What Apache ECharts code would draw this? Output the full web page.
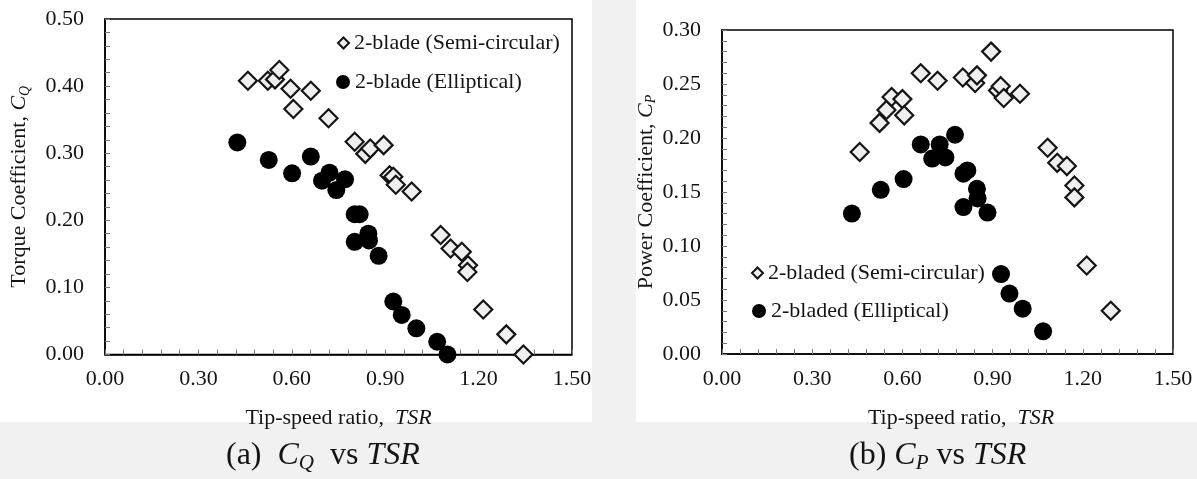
<!DOCTYPE html>
<html>
<head>
<meta charset="utf-8">
<script src="https://cdn.jsdelivr.net/npm/echarts@6/dist/echarts.min.js"></script>
<style>
html,body{margin:0;padding:0;background:#fff;}
#chart{width:1197px;height:479px;}
</style>
</head>
<body>
<div id="chart"></div>
<script>
// ---- data ----
const seriesNamesQ = ['2-blade (Semi-circular)', '2-blade (Elliptical)'];
const seriesNamesP = ['2-bladed (Semi-circular)', '2-bladed (Elliptical)'];

const semiTSR_Q = [0.459,0.523,0.546,0.560,0.596,0.605,0.661,0.718,0.802,0.836,0.852,0.895,0.914,0.926,0.934,0.985,1.078,1.110,1.146,1.166,1.164,1.215,1.289,1.344];
const semiCQ    = [0.408,0.408,0.410,0.424,0.396,0.366,0.393,0.352,0.317,0.299,0.307,0.312,0.267,0.265,0.253,0.243,0.178,0.158,0.153,0.133,0.123,0.067,0.030,0.000];

const ellTSR_Q = [0.425,0.526,0.601,0.661,0.697,0.721,0.743,0.771,0.802,0.818,0.802,0.846,0.848,0.879,0.926,0.953,1.000,1.067,1.100];
const ellCQ    = [0.316,0.290,0.270,0.295,0.259,0.271,0.245,0.261,0.209,0.209,0.168,0.180,0.170,0.147,0.079,0.059,0.039,0.019,0.000];

const semiTSR_P = [0.458,0.524,0.547,0.564,0.600,0.606,0.661,0.717,0.801,0.842,0.848,0.895,0.918,0.927,0.937,0.991,1.083,1.115,1.147,1.172,1.172,1.213,1.293];
const semiCP    = [0.187,0.214,0.226,0.238,0.236,0.221,0.260,0.253,0.256,0.251,0.258,0.280,0.244,0.248,0.237,0.241,0.191,0.177,0.174,0.156,0.145,0.082,0.040];

const ellTSR_P = [0.432,0.528,0.604,0.661,0.699,0.724,0.743,0.775,0.803,0.816,0.803,0.848,0.850,0.883,0.928,0.956,1.000,1.068];
const ellCP    = [0.130,0.152,0.162,0.194,0.181,0.194,0.182,0.203,0.167,0.170,0.136,0.153,0.144,0.131,0.074,0.056,0.042,0.021];

const xTickLabels  = ['0.00','0.30','0.60','0.90','1.20','1.50'];
const yTickLabelsQ = ['0.00','0.10','0.20','0.30','0.40','0.50'];
const yTickLabelsP = ['0.00','0.05','0.10','0.15','0.20','0.25','0.30'];

// ---- helpers ----
const FONT = '"Liberation Serif","Times New Roman",serif';
const TXT = '#141414';
const FS = 22;
const zip = (a, b) => a.map((v, i) => [v, b[i]]);

const semiStyle = { color: '#efefef', borderColor: '#151515', borderWidth: 2.2, opacity: 1 };
const ellStyle  = { color: '#000000', opacity: 1 };

function xAxisCfg(grid, namePadLeft) {
  return {
    gridIndex: grid, type: 'value', min: 0, max: 1.5, interval: 0.3,
    name: '{n|Tip-speed ratio,  }{i|TSR}',
    nameLocation: 'middle', nameGap: 53,
    nameTextStyle: {
      padding: [0, 0, 0, namePadLeft],
      rich: {
        n: { fontFamily: FONT, fontSize: FS, color: TXT },
        i: { fontFamily: FONT, fontSize: FS, color: TXT, fontStyle: 'italic' }
      }
    },
    axisLine: { show: true, onZero: false, lineStyle: { color: '#000', width: 1.5 } },
    axisTick: { show: true, inside: true, length: 5, lineStyle: { color: '#777', width: 1 } },
    minorTick: { show: true, splitNumber: 5, length: 5, lineStyle: { color: '#777', width: 1 } },
    splitLine: { show: false },
    axisLabel: {
      margin: 14, fontFamily: FONT, fontSize: FS, color: TXT,
      formatter: (v, i) => xTickLabels[i]
    }
  };
}

function yAxisCfg(grid, max, interval, labels, nameMain, sub, gap) {
  return {
    gridIndex: grid, type: 'value', min: 0, max: max, interval: interval,
    name: '{n|' + nameMain + '}{i|C}{s|' + sub + '}',
    nameLocation: 'middle', nameGap: gap, nameRotate: 90,
    nameTextStyle: {
      rich: {
        n: { fontFamily: FONT, fontSize: FS, color: TXT, lineHeight: 25 },
        i: { fontFamily: FONT, fontSize: FS, color: TXT, fontStyle: 'italic', lineHeight: 25 },
        s: { fontFamily: FONT, fontSize: 14, color: TXT, fontStyle: 'italic', verticalAlign: 'bottom', lineHeight: 14 }
      }
    },
    axisLine: { show: true, onZero: false, lineStyle: { color: '#000', width: 1.5 } },
    axisTick: { show: true, inside: true, length: 5, lineStyle: { color: '#777', width: 1 } },
    minorTick: { show: true, splitNumber: 5, length: 5, lineStyle: { color: '#777', width: 1 } },
    splitLine: { show: false },
    axisLabel: {
      margin: 21, fontFamily: FONT, fontSize: FS, color: TXT,
      formatter: (v, i) => labels[i]
    }
  };
}

function legendCfg(name, left, top, size) {
  return {
    data: [name], left: left, top: top, padding: 0,
    itemWidth: size, itemHeight: size, itemGap: 0,
    selectedMode: false,
    textStyle: { fontFamily: FONT, fontSize: FS, color: TXT, padding: [0, 0, 0, 0] }
  };
}

const capRich = {
  n: { fontFamily: FONT, fontSize: 32, fill: TXT, lineHeight: 36 },
  i: { fontFamily: FONT, fontSize: 32, fill: TXT, fontStyle: 'italic', lineHeight: 36 },
  s: { fontFamily: FONT, fontSize: 21, fill: TXT, fontStyle: 'italic', verticalAlign: 'bottom', lineHeight: 21 }
};

const chart = echarts.init(document.getElementById('chart'), null, { renderer: 'canvas' });

const option = {
  backgroundColor: '#ffffff',
  animation: false,
  grid: [
    { left: 105, top: 19, width: 467, height: 335.5, show: true, borderColor: '#000', borderWidth: 1.5, backgroundColor: '#fff', containLabel: false },
    { left: 722, top: 30, width: 451, height: 324, show: true, borderColor: '#000', borderWidth: 1.5, backgroundColor: '#fff', containLabel: false }
  ],
  xAxis: [ xAxisCfg(0, 0), xAxisCfg(1, 27) ],
  yAxis: [
    yAxisCfg(0, 0.5, 0.1, yTickLabelsQ, 'Torque Coefficient, ', 'Q', 73),
    yAxisCfg(1, 0.3, 0.05, yTickLabelsP, 'Power Coefficient, ', 'P', 60)
  ],
  legend: [
    legendCfg(seriesNamesQ[0], 337, 32, 11),
    legendCfg(seriesNamesQ[1], 336, 71, 14),
    legendCfg(seriesNamesP[0], 751, 262, 11),
    legendCfg(seriesNamesP[1], 752, 300, 14)
  ],
  series: [
    { name: seriesNamesQ[0], type: 'scatter', xAxisIndex: 0, yAxisIndex: 0, symbol: 'diamond', symbolSize: 18,
      itemStyle: semiStyle, data: zip(semiTSR_Q, semiCQ), z: 3 },
    { name: seriesNamesQ[1], type: 'scatter', xAxisIndex: 0, yAxisIndex: 0, symbol: 'circle', symbolSize: 18,
      itemStyle: ellStyle, data: zip(ellTSR_Q, ellCQ), z: 2 },
    { name: seriesNamesP[0], type: 'scatter', xAxisIndex: 1, yAxisIndex: 1, symbol: 'diamond', symbolSize: 18,
      itemStyle: semiStyle, data: zip(semiTSR_P, semiCP), z: 3 },
    { name: seriesNamesP[1], type: 'scatter', xAxisIndex: 1, yAxisIndex: 1, symbol: 'circle', symbolSize: 18,
      itemStyle: ellStyle, data: zip(ellTSR_P, ellCP), z: 2 }
  ],
  graphic: [
    // faint page background (watermark area) outside the two white chart images
    { type: 'rect', z: -10, silent: true, shape: { x: 0, y: 422, width: 1197, height: 57 }, style: { fill: '#f1f1f1' } },
    { type: 'rect', z: -10, silent: true, shape: { x: 592, y: 0, width: 44, height: 422 }, style: { fill: '#f1f1f1' } },
    { type: 'text', left: 226, top: 440,
      style: { text: '{n|(a)  }{i|C}{s|Q}{n|  vs }{i|TSR}', rich: capRich } },
    { type: 'text', left: 849, top: 440,
      style: { text: '{n|(b) }{i|C}{s|P}{n| vs }{i|TSR}', rich: capRich } }
  ]
};

chart.setOption(option);
</script>
</body>
</html>
